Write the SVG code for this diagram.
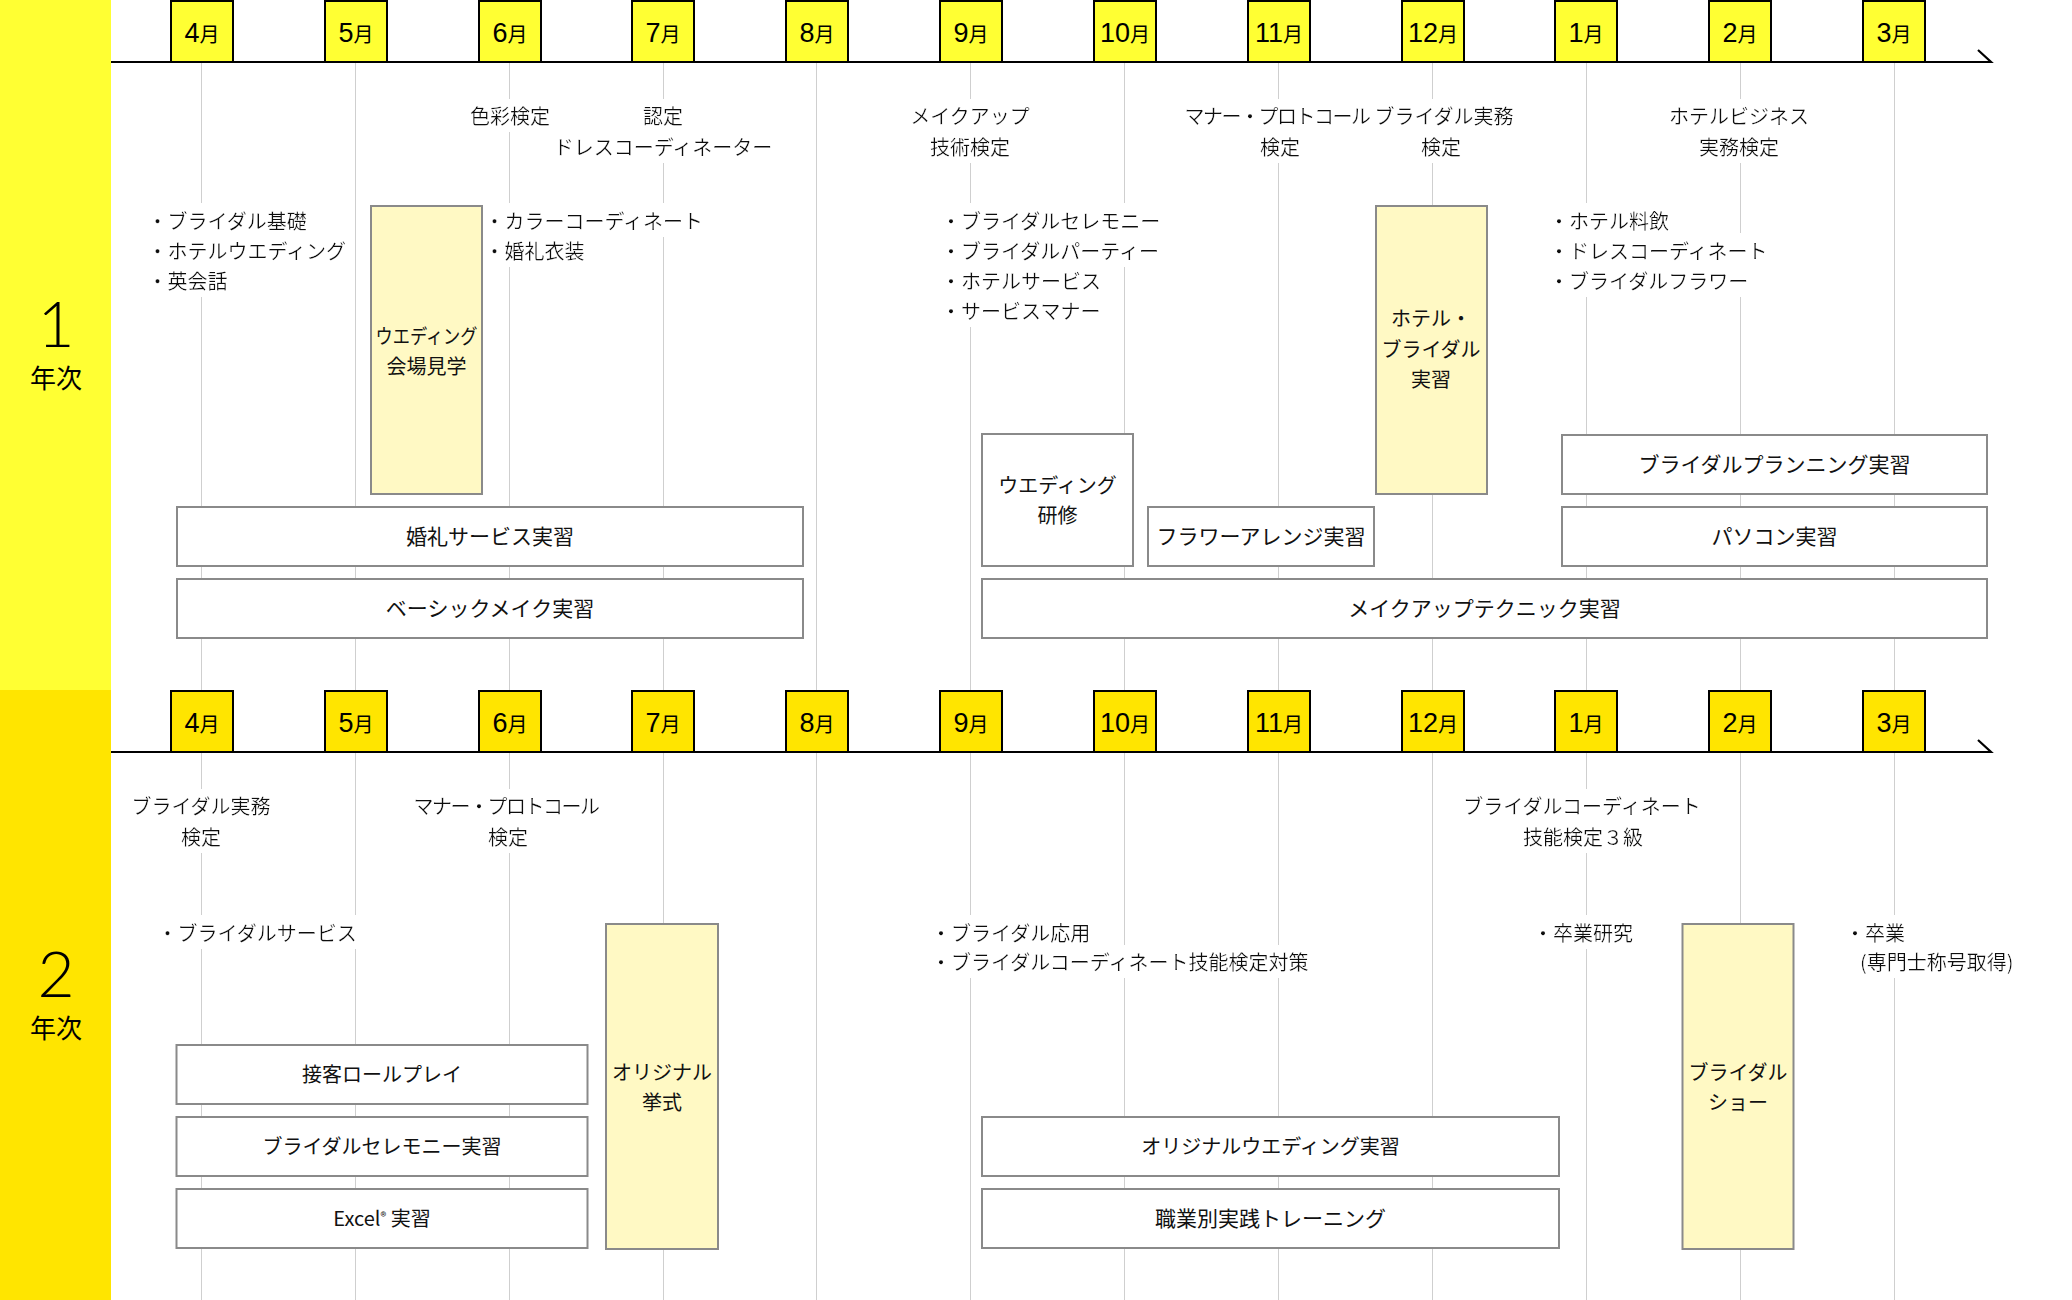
<svg xmlns="http://www.w3.org/2000/svg" width="2072" height="1300" viewBox="0 0 2072 1300">
<defs>
<filter id="wb" x="-0.02" y="-0.06" width="1.04" height="1.12"><feFlood flood-color="#ffffff" result="f"/><feMerge><feMergeNode in="f"/><feMergeNode in="SourceGraphic"/></feMerge></filter>
<style>
.t{font-family:"Noto Sans CJK JP","Noto Sans CJK SC",sans-serif;font-size:20px;fill:#111}
.bt{font-size:21px}
.m{text-anchor:middle}
.bg{filter:url(#wb)}
.grid{stroke:#cfcfcf;stroke-width:1}
.axis{stroke:#000;stroke-width:2.2;fill:none}
.mb1{fill:#FFFF33;stroke:#000;stroke-width:2}
.mb2{fill:#FFE500;stroke:#000;stroke-width:2}
.ml{text-anchor:middle;fill:#000}
.num{font-family:"Liberation Sans",Arial,sans-serif;font-size:27px}
.mo{font-family:"Noto Sans CJK JP",sans-serif;font-size:20px}
.box{fill:#fff;stroke:#8a8a8a;stroke-width:2}
.ybox{fill:#FFF9C4;stroke:#8a8a8a;stroke-width:2}
.yr{font-family:"Lato","Liberation Sans",sans-serif;font-weight:300;font-size:64px;text-anchor:middle;fill:#000}
.nj{font-family:"Noto Sans CJK JP",sans-serif;font-size:26px;text-anchor:middle;fill:#000}
</style>
</defs>
<rect x="0" y="0" width="2072" height="1300" fill="#fff"/>
<g id="bands">
<rect x="0" y="0" width="111" height="690" fill="#FFFF33"/>
<rect x="0" y="690" width="111" height="610" fill="#FFE500"/>
<text class="yr" x="56" y="347">1</text>
<text class="nj" x="56" y="388">年次</text>
<text class="yr" x="56" y="997">2</text>
<text class="nj" x="56" y="1038">年次</text>
</g>
<g id="connectors">
<g id="grid">
<path class="grid" d="M201.5 62V690M355.5 62V690M509.5 62V690M663.5 62V690M816.5 62V690M970.5 62V690M1124.5 62V690M1278.5 62V690M1432.5 62V690M1586.5 62V690M1740.5 62V690M1894.5 62V690"/>
<path class="grid" d="M201.5 752V1300M355.5 752V1300M509.5 752V1300M663.5 752V1300M816.5 752V1300M970.5 752V1300M1124.5 752V1300M1278.5 752V1300M1432.5 752V1300M1586.5 752V1300M1740.5 752V1300M1894.5 752V1300"/>
</g>
</g>
<g id="year1-months">
<rect class="mb1" x="171" y="1" width="62" height="61"/>
<rect class="mb1" x="325" y="1" width="62" height="61"/>
<rect class="mb1" x="479" y="1" width="62" height="61"/>
<rect class="mb1" x="632" y="1" width="62" height="61"/>
<rect class="mb1" x="786" y="1" width="62" height="61"/>
<rect class="mb1" x="940" y="1" width="62" height="61"/>
<rect class="mb1" x="1094" y="1" width="62" height="61"/>
<rect class="mb1" x="1248" y="1" width="62" height="61"/>
<rect class="mb1" x="1402" y="1" width="62" height="61"/>
<rect class="mb1" x="1555" y="1" width="62" height="61"/>
<rect class="mb1" x="1709" y="1" width="62" height="61"/>
<rect class="mb1" x="1863" y="1" width="62" height="61"/>
<text class="ml" x="202" y="42"><tspan class="num">4</tspan><tspan class="mo">月</tspan></text>
<text class="ml" x="356" y="42"><tspan class="num">5</tspan><tspan class="mo">月</tspan></text>
<text class="ml" x="510" y="42"><tspan class="num">6</tspan><tspan class="mo">月</tspan></text>
<text class="ml" x="663" y="42"><tspan class="num">7</tspan><tspan class="mo">月</tspan></text>
<text class="ml" x="817" y="42"><tspan class="num">8</tspan><tspan class="mo">月</tspan></text>
<text class="ml" x="971" y="42"><tspan class="num">9</tspan><tspan class="mo">月</tspan></text>
<text class="ml" x="1125" y="42"><tspan class="num">10</tspan><tspan class="mo">月</tspan></text>
<text class="ml" x="1279" y="42"><tspan class="num">11</tspan><tspan class="mo">月</tspan></text>
<text class="ml" x="1433" y="42"><tspan class="num">12</tspan><tspan class="mo">月</tspan></text>
<text class="ml" x="1586" y="42"><tspan class="num">1</tspan><tspan class="mo">月</tspan></text>
<text class="ml" x="1740" y="42"><tspan class="num">2</tspan><tspan class="mo">月</tspan></text>
<text class="ml" x="1894" y="42"><tspan class="num">3</tspan><tspan class="mo">月</tspan></text>
<path class="axis" d="M111 62H1991L1978 50"/>
</g>
<g id="year2-months">
<rect class="mb2" x="171" y="691" width="62" height="61"/>
<rect class="mb2" x="325" y="691" width="62" height="61"/>
<rect class="mb2" x="479" y="691" width="62" height="61"/>
<rect class="mb2" x="632" y="691" width="62" height="61"/>
<rect class="mb2" x="786" y="691" width="62" height="61"/>
<rect class="mb2" x="940" y="691" width="62" height="61"/>
<rect class="mb2" x="1094" y="691" width="62" height="61"/>
<rect class="mb2" x="1248" y="691" width="62" height="61"/>
<rect class="mb2" x="1402" y="691" width="62" height="61"/>
<rect class="mb2" x="1555" y="691" width="62" height="61"/>
<rect class="mb2" x="1709" y="691" width="62" height="61"/>
<rect class="mb2" x="1863" y="691" width="62" height="61"/>
<text class="ml" x="202" y="732"><tspan class="num">4</tspan><tspan class="mo">月</tspan></text>
<text class="ml" x="356" y="732"><tspan class="num">5</tspan><tspan class="mo">月</tspan></text>
<text class="ml" x="510" y="732"><tspan class="num">6</tspan><tspan class="mo">月</tspan></text>
<text class="ml" x="663" y="732"><tspan class="num">7</tspan><tspan class="mo">月</tspan></text>
<text class="ml" x="817" y="732"><tspan class="num">8</tspan><tspan class="mo">月</tspan></text>
<text class="ml" x="971" y="732"><tspan class="num">9</tspan><tspan class="mo">月</tspan></text>
<text class="ml" x="1125" y="732"><tspan class="num">10</tspan><tspan class="mo">月</tspan></text>
<text class="ml" x="1279" y="732"><tspan class="num">11</tspan><tspan class="mo">月</tspan></text>
<text class="ml" x="1433" y="732"><tspan class="num">12</tspan><tspan class="mo">月</tspan></text>
<text class="ml" x="1586" y="732"><tspan class="num">1</tspan><tspan class="mo">月</tspan></text>
<text class="ml" x="1740" y="732"><tspan class="num">2</tspan><tspan class="mo">月</tspan></text>
<text class="ml" x="1894" y="732"><tspan class="num">3</tspan><tspan class="mo">月</tspan></text>
<path class="axis" d="M111 752H1991L1978 740"/>
</g>
<g id="y1-labels">
<g id="y1-exam-color"><text class="t m bg" x="510" y="124">色彩検定</text></g>
<g id="y1-exam-dress"><text class="t m bg" x="663" y="124">認定</text><text class="t m bg" x="663" y="154.5">ドレスコーディネーター</text></g>
<g id="y1-exam-makeup"><text class="t m bg" x="970" y="124">メイクアップ</text><text class="t m bg" x="970" y="154.5">技術検定</text></g>
<g id="y1-exam-manner"><text class="t m bg" x="1277" y="124" letter-spacing="-1.5">マナー・プロトコール</text><text class="t m bg" x="1280" y="154.5">検定</text></g>
<g id="y1-exam-bridal"><text class="t m bg" x="1444" y="124">ブライダル実務</text><text class="t m bg" x="1441" y="154.5">検定</text></g>
<g id="y1-exam-hotel"><text class="t m bg" x="1739" y="124">ホテルビジネス</text><text class="t m bg" x="1739" y="154.5">実務検定</text></g>
<g id="y1-list-apr"><text class="t bg" x="147.5" y="228.5">・ブライダル基礎</text><text class="t bg" x="147.5" y="258.5">・ホテルウエディング</text><text class="t bg" x="147.5" y="288.5">・英会話</text></g>
<g id="y1-list-jun"><text class="t bg" x="484.5" y="228.5">・カラーコーディネート</text><text class="t bg" x="484.5" y="258.5">・婚礼衣装</text></g>
<g id="y1-list-sep"><text class="t bg" x="941" y="228.5">・ブライダルセレモニー</text><text class="t bg" x="941" y="258.5">・ブライダルパーティー</text><text class="t bg" x="941" y="288.5">・ホテルサービス</text><text class="t bg" x="941" y="318.5">・サービスマナー</text></g>
<g id="y1-list-jan"><text class="t bg" x="1549" y="228.5">・ホテル料飲</text><text class="t bg" x="1549" y="258.5">・ドレスコーディネート</text><text class="t bg" x="1549" y="288.5">・ブライダルフラワー</text></g>
</g>
<g id="y1-boxes">
<g id="venue-visit"><rect class="ybox" x="371" y="206" width="111" height="288"/><text class="t m" x="426.5" y="343.5" textLength="102" lengthAdjust="spacingAndGlyphs">ウエディング</text><text class="t m" x="426.5" y="373.5">会場見学</text></g>
<g id="wedding-service"><rect class="box" x="177" y="507" width="626" height="59"/><text class="t bt m" x="490" y="544">婚礼サービス実習</text></g>
<g id="basic-makeup"><rect class="box" x="177" y="579" width="626" height="59"/><text class="t bt m" x="490" y="616">ベーシックメイク実習</text></g>
<g id="wedding-training"><rect class="box" x="982" y="434" width="151" height="132"/><text class="t m" x="1057.5" y="492.5">ウエディング</text><text class="t m" x="1057.5" y="522.5">研修</text></g>
<g id="flower"><rect class="box" x="1148" y="507" width="226" height="59"/><text class="t bt m" x="1261" y="544">フラワーアレンジ実習</text></g>
<g id="hotel-bridal"><rect class="ybox" x="1376" y="206" width="111" height="288"/><text class="t m" x="1431" y="326">ホテル・</text><text class="t m" x="1431" y="356.5">ブライダル</text><text class="t m" x="1431" y="386.5">実習</text></g>
<g id="planning"><rect class="box" x="1562" y="435" width="425" height="59"/><text class="t bt m" x="1774.5" y="472">ブライダルプランニング実習</text></g>
<g id="pc"><rect class="box" x="1562" y="507" width="425" height="59"/><text class="t bt m" x="1774.5" y="544">パソコン実習</text></g>
<g id="makeup-tech"><rect class="box" x="982" y="579" width="1005" height="59"/><text class="t bt m" x="1484.5" y="616">メイクアップテクニック実習</text></g>
</g>
<g id="y2-labels">
<g id="y2-exam-bridal"><text class="t m bg" x="201" y="814">ブライダル実務</text><text class="t m bg" x="201" y="844.5">検定</text></g>
<g id="y2-exam-manner"><text class="t m bg" x="506" y="814" letter-spacing="-1.5">マナー・プロトコール</text><text class="t m bg" x="508" y="844.5">検定</text></g>
<g id="y2-exam-coord"><text class="t m bg" x="1582" y="814">ブライダルコーディネート</text><text class="t m bg" x="1583" y="844.5">技能検定３級</text></g>
<g id="y2-list-apr"><text class="t bg" x="157.5" y="940.5">・ブライダルサービス</text></g>
<g id="y2-list-sep"><text class="t bg" x="931" y="940.5">・ブライダル応用</text><text class="t bg" x="931" y="970">・ブライダルコーディネート技能検定対策</text></g>
<g id="y2-list-jan"><text class="t bg" x="1533" y="940.5">・卒業研究</text></g>
<g id="y2-list-mar"><text class="t bg" x="1845" y="940.5">・卒業</text><text class="t bg" x="1860" y="970">(専門士称号取得)</text></g>
</g>
<g id="y2-boxes">
<g id="roleplay"><rect class="box" x="176.5" y="1045" width="411" height="59"/><text class="t m" x="382" y="1082">接客ロールプレイ</text></g>
<g id="ceremony"><rect class="box" x="176.5" y="1117" width="411" height="59"/><text class="t m" x="382" y="1154">ブライダルセレモニー実習</text></g>
<g id="excel"><rect class="box" x="176.5" y="1189" width="411" height="59"/><text class="t m" x="382" y="1226">Excel<tspan font-size="12" dy="-5">®</tspan><tspan dy="5"> 実習</tspan></text></g>
<g id="original-ceremony"><rect class="ybox" x="606" y="924" width="112" height="325"/><text class="t m" x="662" y="1079.5">オリジナル</text><text class="t m" x="662" y="1109.5">挙式</text></g>
<g id="original-wedding"><rect class="box" x="982" y="1117" width="577" height="59"/><text class="t m" x="1270.5" y="1154">オリジナルウエディング実習</text></g>
<g id="job-training"><rect class="box" x="982" y="1189" width="577" height="59"/><text class="t bt m" x="1270.5" y="1226">職業別実践トレーニング</text></g>
<g id="bridal-show"><rect class="ybox" x="1682.5" y="924" width="111" height="325"/><text class="t m" x="1738" y="1079.5">ブライダル</text><text class="t m" x="1738" y="1109.5">ショー</text></g>
</g>
</svg>
